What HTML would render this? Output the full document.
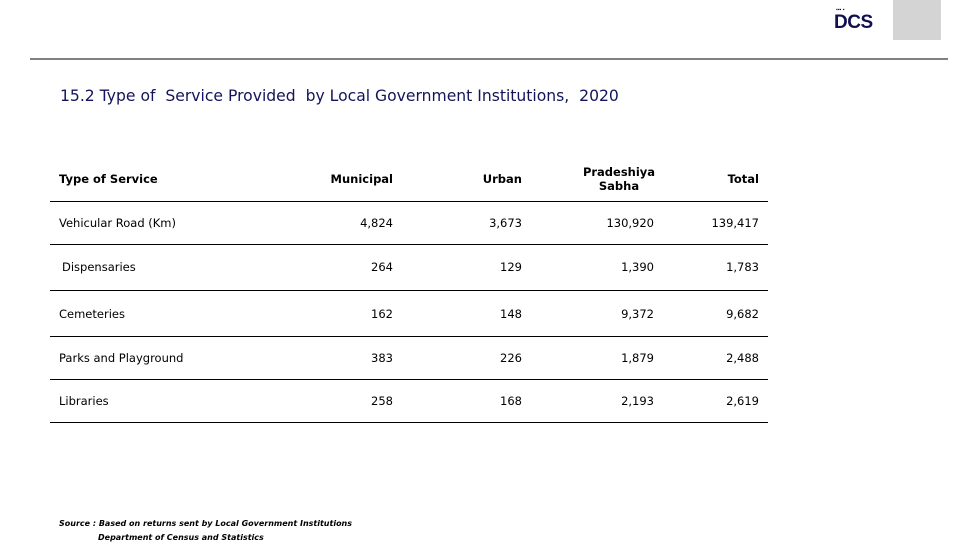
<!DOCTYPE html>
<html><head><meta charset="utf-8"><style>
body{margin:0;width:980px;height:551px;background:#fff;position:relative;overflow:hidden;font-family:"DejaVu Sans","Liberation Sans",sans-serif;}
.a{position:absolute;white-space:nowrap;}
.c{font-size:11.5px;color:#000;line-height:14px;font-weight:500;}
.b{font-weight:bold;}
.r{text-align:right;}
.ln{position:absolute;left:50px;width:718px;height:1px;background:#000;}
</style></head><body>
<div class="a" style="left:893px;top:0;width:48px;height:40px;background:#d4d4d4"></div>
<div class="a" style="left:834px;top:12px;font:bold 19px 'Liberation Sans',sans-serif;color:#101050;letter-spacing:-0.5px">DCS</div>
<div class="a" style="left:836px;top:7px;font:bold 5px 'Liberation Sans',sans-serif;color:#101050">▪▪▪ ▪</div>
<div class="a" style="left:30px;top:58px;width:918px;height:2px;background:#808080"></div>
<div class="a" style="left:60px;top:87px;font-size:15.6px;color:#14145a;font-family:'DejaVu Sans',sans-serif">15.2 Type of&nbsp; Service Provided&nbsp; by Local Government Institutions,&nbsp; 2020</div>
<div>
<div class="a c b" style="left:59px;top:172px">Type of Service</div>
<div class="a c b r" style="right:587px;top:172px">Municipal</div>
<div class="a c b r" style="right:458px;top:172px">Urban</div>
<div class="a c b" style="left:582px;top:165px;text-align:center;width:74px;white-space:normal">Pradeshiya Sabha</div>
<div class="a c b r" style="right:221px;top:172px">Total</div>
<div class="ln" style="top:201px"></div>
<div class="ln" style="top:244px"></div>
<div class="ln" style="top:290px"></div>
<div class="ln" style="top:336px"></div>
<div class="ln" style="top:379px"></div>
<div class="ln" style="top:422px"></div>
<div id="rows"></div>
</div>
<div class="a" style="left:59px;top:517px;font-size:8px;font-style:italic;font-weight:bold;line-height:14px">Source : Based on returns sent by Local Government Institutions</div>
<div class="a" style="left:98px;top:531px;font-size:8px;font-style:italic;font-weight:bold;line-height:14px">Department of Census and Statistics</div>
<script>
const services=["Vehicular Road (Km)"," Dispensaries","Cemeteries","Parks and Playground","Libraries"];
const municipal=["4,824","264","162","383","258"];
const urban=["3,673","129","148","226","168"];
const pradeshiya=["130,920","1,390","9,372","1,879","2,193"];
const total=["139,417","1,783","9,682","2,488","2,619"];
const rowTops=[216,260,307,351,394];
const rights=[587,458,326,221];
const host=document.getElementById('rows');
services.forEach((s,i)=>{
  const l=document.createElement('div');
  l.className='a c';
  l.style.left=(i===1?62:59)+'px';l.style.top=rowTops[i]+'px';
  l.textContent=s.trim();
  
  
  host.appendChild(l);
  [municipal,urban,pradeshiya,total].forEach((arr,j)=>{
    const d=document.createElement('div');
    d.className='a c r';
    d.style.right=rights[j]+'px';d.style.top=rowTops[i]+'px';
    d.textContent=arr[i];
    
    
    host.appendChild(d);
  });
});
</script>
</body></html>
